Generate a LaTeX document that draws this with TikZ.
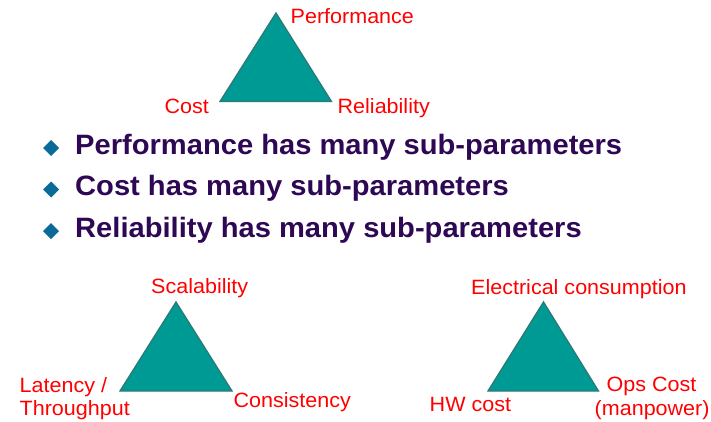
\documentclass[tikz,border=0pt]{standalone}
\usepackage{fontspec}
\setmainfont{Liberation Sans}
\newfontfamily\labelfont[FakeStretch=1.04]{Liberation Sans}
\newfontfamily\bulletfont[FakeStretch=1.04]{Liberation Sans}
\definecolor{labred}{HTML}{FF0000}
\definecolor{bultext}{HTML}{2E0854}
\definecolor{bulmark}{HTML}{0A6A98}
\definecolor{trifill}{HTML}{009A94}
\definecolor{triedge}{HTML}{2B7A77}
\begin{document}
\begin{tikzpicture}[x=1pt,y=-1pt,
  lab/.style={inner sep=0pt,anchor=base west,text=labred,font=\labelfont\fontsize{20.7}{23}\selectfont},
  bul/.style={inner sep=0pt,anchor=base west,text=bultext,font=\bulletfont\bfseries\fontsize{28}{33}\selectfont},
  tri/.style={fill=trifill,draw=triedge,line width=1.3pt,line join=miter}]
\useasboundingbox (0,0) rectangle (711,422);
% top triangle
\coordinate (tA) at (276,13);
\coordinate (tL) at (220,101.5);
\coordinate (tR) at (331.5,101.5);
\draw[tri] (tA) -- (tL) -- (tR) -- cycle;
\node[lab] (perf) at (290.5,24) {Performance};
\node[lab] (cost) at (164.5,113.5) {Cost};
\node[lab] (rel) at (337.5,113.5) {Reliability};
% bullets
\foreach \i/\yy/\txt in {1/154/{Performance has many sub-parameters},
                          2/195.5/{Cost has many sub-parameters},
                          3/237/{Reliability has many sub-parameters}}{
  \fill[bulmark] (51,\yy-14) -- (59,\yy-6) -- (51,\yy+2) -- (43,\yy-6) -- cycle;
  \node[bul] (b\i) at (75,\yy) {\txt};
}
% bottom-left triangle
\coordinate (lA) at (176,302);
\coordinate (lL) at (120,391);
\coordinate (lR) at (232,391);
\draw[tri] (lA) -- (lL) -- (lR) -- cycle;
\node[lab] (scal) at (151,293.5) {Scalability};
\node[lab] (lat) at (19.5,392) {Latency /};
\node[lab] (thr) at (19.5,415) {Throughput};
\node[lab] (cons) at (233.5,407.5) {Consistency};
% bottom-right triangle
\coordinate (rA) at (543.5,302);
\coordinate (rL) at (488,391);
\coordinate (rR) at (598.5,391);
\draw[tri] (rA) -- (rL) -- (rR) -- cycle;
\node[lab] (elec) at (471,294) {Electrical consumption};
\node[lab] (hw) at (429.5,411.5) {HW cost};
\node[lab] (ops) at (606.5,391) {Ops Cost};
\node[lab] (man) at (594.5,415) {(manpower)};
\end{tikzpicture}
\end{document}
